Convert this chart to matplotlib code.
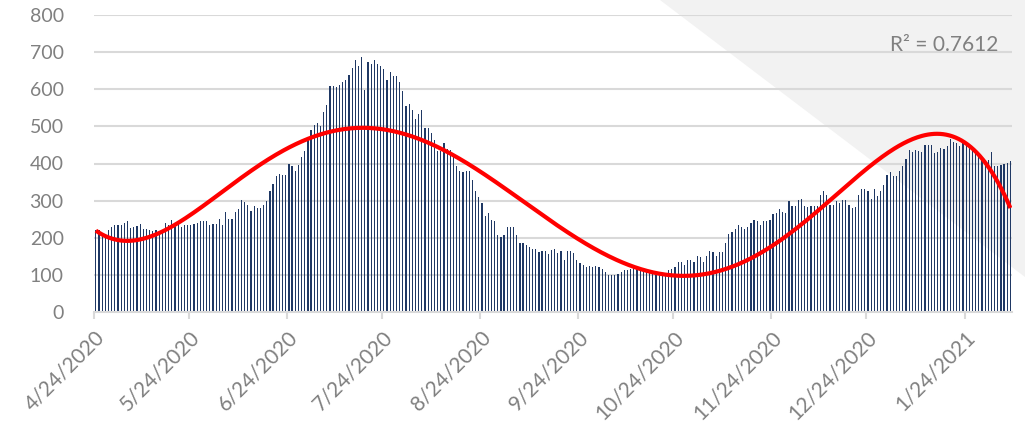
import numpy as np
import matplotlib
matplotlib.use("Agg")
import matplotlib.pyplot as plt
from matplotlib.patches import Polygon
import datetime as dt

# ---- data (daily values, starting 4/24/2020) ----
start_date = dt.date(2020, 4, 24)
values = [
    222, 222, 208, 206, 222, 229, 235, 233, 235, 240,
    246, 226, 229, 231, 237, 224, 224, 222, 217, 222,
    214, 222, 240, 235, 249, 235, 244, 229, 233, 233,
    233, 237, 240, 244, 246, 246, 233, 238, 238, 251,
    235,
    269, 251, 250, 269, 277, 302, 295, 288, 271, 286,
    280, 280, 288, 300, 327, 345, 366, 372, 370, 368,
    399, 392, 381, 397, 417, 435, 471, 489, 503, 509,
    501, 539, 557, 608, 609, 606, 612, 620, 624, 638,
    658,
    678, 662, 686, 599, 673, 669, 678, 669, 662, 655,
    626, 646, 637, 635, 619, 595, 555, 560, 543, 520,
    534, 545, 495, 496, 483, 462, 435, 433, 456, 439,
    437, 417, 393, 379, 376, 379, 381, 356, 327, 309,
    293,
    258, 267, 249, 246, 208, 201, 208, 228, 229, 229,
    208, 186, 186, 181, 175, 170, 169, 162, 165, 165,
    156, 168, 170, 159, 165, 141, 163, 163, 159, 141,
    132, 127, 121, 125, 121, 125, 121, 115, 107, 100,
    100, 100,
    103, 109, 114, 114, 116, 118, 116, 114, 111, 109,
    105, 105, 100, 103, 103, 105, 114, 116, 121, 136,
    136, 127, 141, 141, 136, 151, 147, 136, 150, 163,
    162, 151, 162, 162, 187, 211, 215, 223, 235, 230,
    223,
    228, 241, 249, 245, 235, 245, 245, 249, 265, 268,
    277, 270, 268, 298, 286, 286, 301, 305, 285, 283,
    286, 285, 285, 316, 325, 316, 289, 289, 298, 294,
    301, 303, 289, 280, 283, 316, 330, 331, 327, 305,
    331,
    312, 325, 343, 370, 377, 367, 366, 379, 393, 413,
    436, 431, 436, 433, 431, 451, 451, 450, 429, 432,
    442, 438, 446, 465, 458, 456, 446, 455, 451, 442,
    433, 431, 417, 410, 410, 409, 431, 393, 393, 397,
    400, 402, 406,
]
tick_labels = ["4/24/2020", "5/24/2020", "6/24/2020", "7/24/2020", "8/24/2020",
               "9/24/2020", "10/24/2020", "11/24/2020", "12/24/2020", "1/24/2021"]
tick_dates = [dt.date(2020, 4, 24), dt.date(2020, 5, 24), dt.date(2020, 6, 24),
              dt.date(2020, 7, 24), dt.date(2020, 8, 24), dt.date(2020, 9, 24),
              dt.date(2020, 10, 24), dt.date(2020, 11, 24), dt.date(2020, 12, 24),
              dt.date(2021, 1, 24)]
yticks = [0, 100, 200, 300, 400, 500, 600, 700, 800]
r2_label = "R² = 0.7612"
poly_order = 5

vals = np.array(values, dtype=float)
n = len(vals)
days = np.arange(n)
tick_pos = [(d - start_date).days for d in tick_dates]

plt.rcParams['font.family'] = ['Lato', 'DejaVu Sans']

fig = plt.figure(figsize=(10.25, 4.24), dpi=100)
fig.patch.set_facecolor('white')
# light grey diagonal background shape
tri = Polygon([(660 / 1025, 1.0), (1.0, 1.0), (1.0, 1 - 277 / 424)], closed=True,
              transform=fig.transFigure, facecolor='#F2F2F2', edgecolor='none', zorder=0)
fig.patches.append(tri)

ax = fig.add_axes([94.3 / 1025, 1 - 312 / 424, (1012 - 94.3) / 1025, (312 - 15) / 424])
ax.set_facecolor('none')
ax.set_zorder(1)

ax.bar(days + 0.5, vals, width=0.38, color='#1F3864', linewidth=0, zorder=2)

# polynomial trendline
p = np.polynomial.Polynomial.fit(days + 0.5, vals, poly_order)
xs = np.linspace(0.5, n - 0.5, 600)
ax.plot(xs, p(xs), color='#FF0000', lw=3.0, zorder=3, solid_capstyle='butt')

ax.set_xlim(0, n)
ax.set_ylim(0, 800)
ax.set_yticks(yticks)
ax.set_yticklabels([str(v) for v in yticks])
ax.grid(axis='y', color='#D9D9D9', lw=1.5, zorder=0)
ax.set_axisbelow(True)

ax.set_xticks(tick_pos)
ax.set_xticklabels(tick_labels, rotation=45, ha='right', va='top', rotation_mode='anchor')

for s in ['top', 'right', 'left']:
    ax.spines[s].set_visible(False)
ax.spines['bottom'].set_color('#D9D9D9')
ax.spines['bottom'].set_linewidth(1.5)

ax.tick_params(axis='y', length=0, pad=22, labelsize=14, labelcolor='#808080')
ax.tick_params(axis='x', length=5, width=1.5, color='#D9D9D9', pad=6,
               labelsize=15, labelcolor='#808080')

fig.text(998 / 1025, 1 - 45 / 424, r2_label, ha='right', va='center',
         fontsize=15, color='#808080')

fig.savefig('out.png', dpi=100, facecolor='white')
